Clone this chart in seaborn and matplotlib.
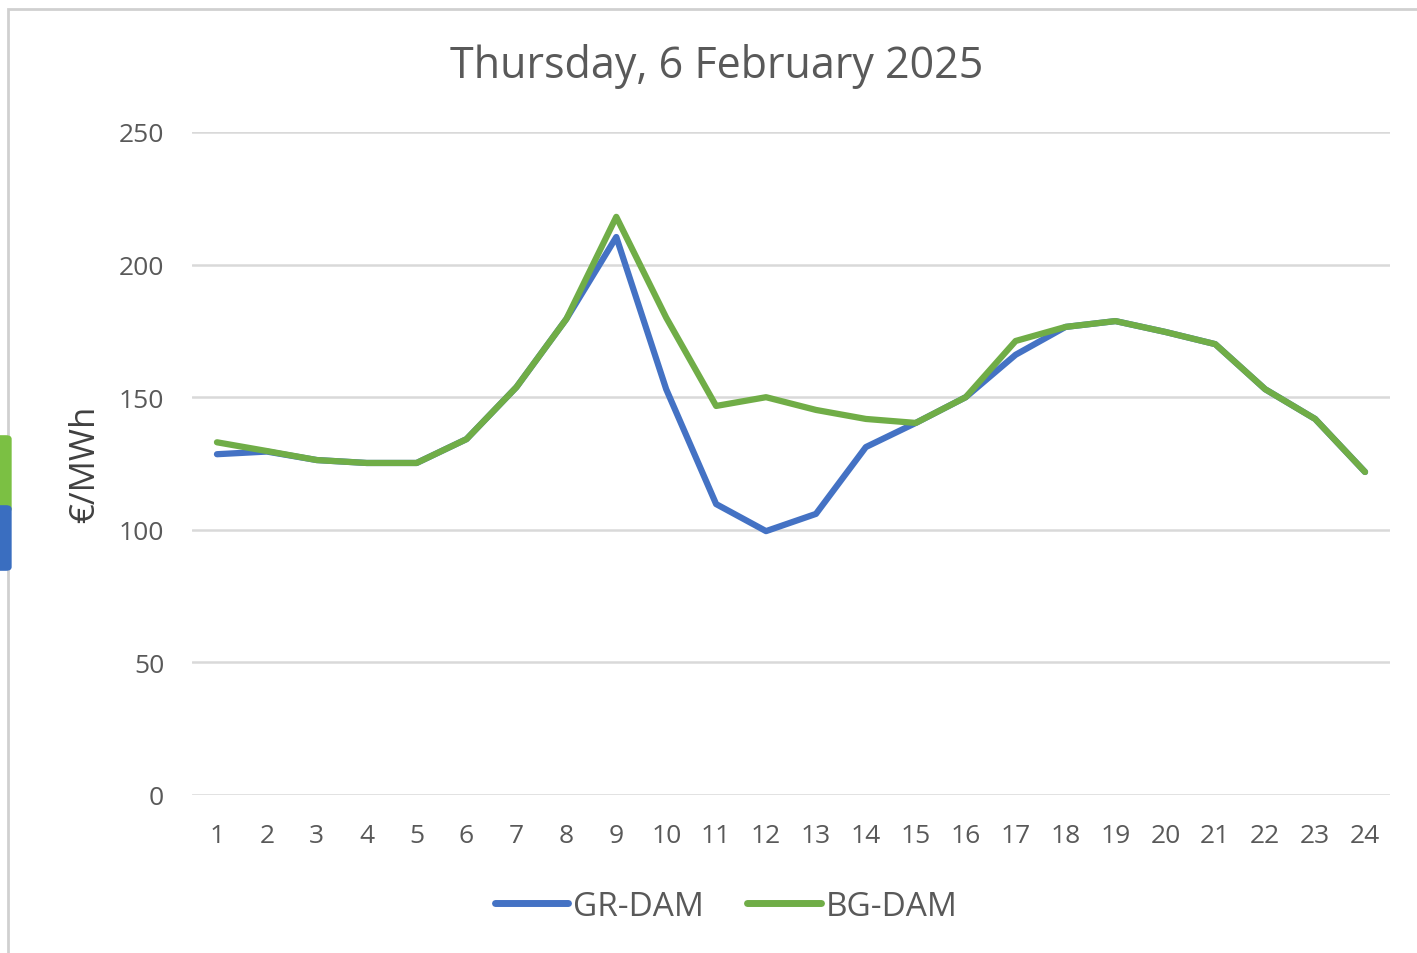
import numpy as np
import pandas as pd
import matplotlib
matplotlib.use("Agg")
import matplotlib.pyplot as plt
import seaborn as sns
from matplotlib.patches import Rectangle, FancyBboxPatch

hours = list(range(1, 25))
gr_dam = [128.5, 129.5, 126.3, 125.2, 125.2, 134.2, 153.8, 179.5, 210.4, 153.0, 109.7, 99.5,
          106.0, 131.2, 140.3, 150.0, 166.0, 176.5, 178.7, 174.6, 170.0, 153.0, 141.8, 121.8]
bg_dam = [133.0, 129.7, 126.3, 125.2, 125.2, 134.2, 153.8, 179.5, 218.0, 180.0, 146.7, 150.0,
          145.2, 141.8, 140.3, 150.0, 171.2, 176.5, 178.7, 174.6, 170.0, 153.0, 141.8, 121.8]
series = ["GR-DAM", "BG-DAM"]
colors = ["#4472C4", "#70AD47"]
y_ticks = [0, 50, 100, 150, 200, 250]

df = pd.DataFrame({"hour": hours * 2,
                   "price": gr_dam + bg_dam,
                   "market": [series[0]] * 24 + [series[1]] * 24})

sns.set_theme(style="white")
plt.rcParams['font.family'] = ['Open Sans', 'DejaVu Sans']

fig = plt.figure(figsize=(14.17, 9.54), dpi=100)
ax = fig.add_axes([192 / 1417, 1 - 796 / 954, (1390 - 192) / 1417, (796 - 133) / 954])

sns.lineplot(data=df, x="hour", y="price", hue="market", palette=colors,
             linewidth=4.5, ax=ax, legend=True)

ax.set_xlim(0.5, 24.5)
ax.set_ylim(0, 250)
ax.set_xticks(hours)
ax.set_yticks(y_ticks)
ax.tick_params(axis="both", length=0, labelsize=19, labelcolor="#595959")
ax.tick_params(axis="y", pad=20)
ax.tick_params(axis="x", pad=20)
ax.yaxis.grid(True, color="#D9D9D9", linewidth=1.8)
ax.set_axisbelow(True)
for s in ax.spines.values():
    s.set_visible(False)
ax.set_xlabel("")
ax.set_ylabel("€/MWh", fontsize=25, color="#404040", labelpad=12)

fig.text(0.506, 1 - 67 / 954, "Thursday, 6 February 2025", ha="center", va="center",
         fontsize=31, color="#595959")

leg = ax.legend(loc="upper center", bbox_to_anchor=(0.446, -0.098), ncol=2, frameon=False,
                fontsize=24, handlelength=2.2, handletextpad=0.15, columnspacing=1.3)
for t in leg.get_texts():
    t.set_color("#595959")
for h in leg.get_lines():
    h.set_linewidth(5)

# light frame around the chart area
fig.patches.append(Rectangle((8 / 1417, -0.01), 1.1, 1 - 10 / 954 + 0.01,
                             transform=fig.transFigure, fill=False,
                             edgecolor="#D0D0D0", linewidth=2))
# clipped neighbour artefact on the left edge
fig.patches.append(FancyBboxPatch((-20 / 1417, 1 - 510 / 954), 26 / 1417, 70 / 954,
                                  boxstyle="round,pad=0.004", transform=fig.transFigure,
                                  facecolor="#7BC043", edgecolor="none"))
fig.patches.append(FancyBboxPatch((-20 / 1417, 1 - 568 / 954), 26 / 1417, 58 / 954,
                                  boxstyle="round,pad=0.004", transform=fig.transFigure,
                                  facecolor="#3A6EC0", edgecolor="none"))

fig.savefig("out.png", dpi=100)
